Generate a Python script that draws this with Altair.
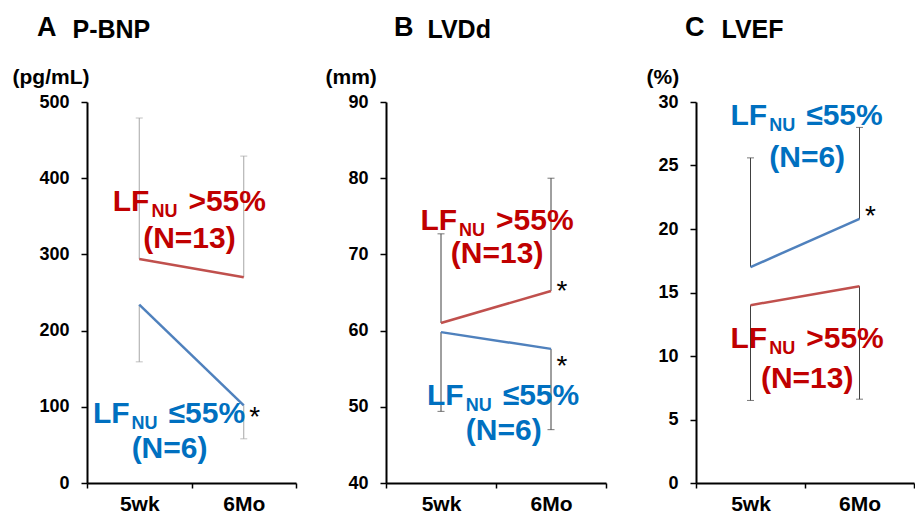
import altair as alt
import pandas as pd

FONT = "Liberation Sans"

times = ["5wk", "6Mo"]
group_keys = ["hi", "lo"]
suffix_text = {"hi": ">55%", "lo": "≤55%"}
n_text = {"hi": "(N=13)", "lo": "(N=6)"}

# ---- Panel A: P-BNP (pg/mL) ----
bnp_hi_mean = [294, 270]
bnp_hi_err = [479, 429]
bnp_lo_mean = [234, 102]
bnp_lo_err = [159, 58]
bnp_ticks = [0, 100, 200, 300, 400, 500]
# label: group, centre x (0..2), line-1 baseline, line-2 baseline (data units)
bnp_labels = [("hi", 0.98, 357, 308), ("lo", 0.79, 79, 33)]
bnp_stars = [96]

# ---- Panel B: LVDd (mm) ----
lvdd_hi_mean = [61.0, 65.2]
lvdd_hi_err = [72.7, 80.0]
lvdd_lo_mean = [59.8, 57.6]
lvdd_lo_err = [49.4, 47.0]
lvdd_ticks = [40, 50, 60, 70, 80, 90]
lvdd_labels = [("hi", 1.01, 73.2, 68.9), ("lo", 1.07, 50.2, 45.6)]
lvdd_stars = [66.1, 56.3]

# ---- Panel C: LVEF (%) ----
lvef_hi_mean = [14.0, 15.5]
lvef_hi_err = [6.5, 6.6]
lvef_lo_mean = [17.0, 20.8]
lvef_lo_err = [25.6, 28.0]
lvef_ticks = [0, 5, 10, 15, 20, 25, 30]
lvef_labels = [("lo", 1.02, 28.2, 24.9), ("hi", 1.02, 10.6, 7.5)]
lvef_stars = [21.6]

LINE_COLORS = ["#C0504D", "#4F81BD"]
TEXT_COLORS = ["#C00000", "#0070C0"]


def make_panel(letter, name, unit, ticks, hi_mean, hi_err, lo_mean, lo_err,
               labels, stars, err_color, width, letter_dx, name_dx, unit_dx):
    rows = []
    for g, m, e in (("hi", hi_mean, hi_err), ("lo", lo_mean, lo_err)):
        for t, mv, ev in zip(times, m, e):
            rows.append({"time": t, "group": g, "mean": mv, "err": ev})
    df = pd.DataFrame(rows)
    lab = pd.DataFrame([
        {"group": g, "cx": cx, "y1": y1, "y2": y2,
         "suffix": suffix_text[g], "n": n_text[g]}
        for g, cx, y1, y2 in labels
    ])
    st = pd.DataFrame({"time": ["6Mo"] * len(stars), "y": stars})

    yscale = alt.Scale(domain=[ticks[0], ticks[-1]], nice=False, zero=False)
    yaxis = alt.Axis(values=ticks, title=unit, grid=False, domainColor="black",
                     domainWidth=2, tickColor="black", tickWidth=1.5, tickSize=6,
                     labelFont=FONT, labelFontSize=18, labelFontWeight="bold",
                     labelColor="black", labelPadding=12,
                     titleAngle=0, titleX=unit_dx, titleY=-19, titleAlign="left",
                     titleBaseline="alphabetic", titleFont=FONT, titleFontSize=21,
                     titleFontWeight="bold", titleColor="black")

    def Y(field):
        return alt.Y(field, type="quantitative", scale=yscale, axis=yaxis)

    X = alt.X("time:N", sort=times, bandPosition=0.5,
              scale=alt.Scale(type="band", paddingInner=0, paddingOuter=0),
              axis=alt.Axis(title=None, labelAngle=0, tickBand="extent",
                            domainColor="black", domainWidth=2, tickColor="black",
                            tickWidth=1.5, tickSize=5, labelPadding=5,
                            labelFont=FONT, labelFontSize=21, labelFontWeight="bold",
                            labelColor="black"))

    base = alt.Chart(df)
    lines = base.mark_line(strokeWidth=2.5).encode(
        x=X, y=Y("mean"),
        color=alt.Color("group:N", scale=alt.Scale(domain=group_keys, range=LINE_COLORS),
                        legend=None))
    rules = base.mark_rule(color=err_color, strokeWidth=1).encode(
        x=X, y=Y("mean"), y2="err")
    caps = base.mark_tick(color=err_color, thickness=1, size=7, orient="horizontal").encode(
        x=X, y=Y("err"))
    star = alt.Chart(st).mark_text(text="*", fontSize=28, font=FONT, color="black",
                                   dx=11, dy=16, baseline="alphabetic").encode(
        x=X, y=Y("y"))
    data_layer = alt.layer(rules, caps, lines, star)

    AX = alt.X("cx:Q", scale=alt.Scale(domain=[0, 2], nice=False, zero=False),
               axis=alt.Axis(orient="top", title=name, labels=False, ticks=False,
                             domain=False, grid=False, titleX=name_dx, titleY=-65,
                             titleAlign="left", titleBaseline="alphabetic",
                             titleFont=FONT, titleFontSize=25, titleFontWeight="bold",
                             titleColor="black"))
    tcol = alt.Color("group:N", scale=alt.Scale(domain=group_keys, range=TEXT_COLORS),
                     legend=None)
    lb = alt.Chart(lab)
    t_lf = lb.mark_text(text="LF", align="right", baseline="alphabetic", font=FONT,
                        fontSize=30, fontWeight="bold", dx=-40).encode(
        x=AX, y=Y("y1"), color=tcol)
    t_nu = lb.mark_text(text="NU", align="left", baseline="alphabetic", font=FONT,
                        fontSize=18, fontWeight="bold", dx=-38, dy=6).encode(
        x=AX, y=Y("y1"), color=tcol)
    t_sf = lb.mark_text(align="left", baseline="alphabetic", font=FONT,
                        fontSize=30, fontWeight="bold", dx=-1).encode(
        x=AX, y=Y("y1"), text="suffix:N", color=tcol)
    t_n = lb.mark_text(align="center", baseline="alphabetic", font=FONT,
                       fontSize=30, fontWeight="bold").encode(
        x=AX, y=Y("y2"), text="n:N", color=tcol)
    annot_layer = alt.layer(t_lf, t_nu, t_sf, t_n)

    return alt.layer(data_layer, annot_layer).resolve_scale(
        x="independent", color="independent").properties(
        width=width, height=381,
        title=alt.TitleParams(letter, anchor="start", frame="group", dx=letter_dx,
                              fontSize=27, font=FONT, fontWeight="bold", color="black",
                              baseline="alphabetic", offset=-46))


pA = make_panel("A", "P-BNP", "(pg/mL)", bnp_ticks, bnp_hi_mean, bnp_hi_err,
                bnp_lo_mean, bnp_lo_err, bnp_labels, bnp_stars, "#A6A6A6",
                209, -50, -15, -75)
pB = make_panel("B", "LVDd", "(mm)", lvdd_ticks, lvdd_hi_mean, lvdd_hi_err,
                lvdd_lo_mean, lvdd_lo_err, lvdd_labels, lvdd_stars, "#404040",
                220, 8, 41, -61)
pC = make_panel("C", "LVEF", "(%)", lvef_ticks, lvef_hi_mean, lvef_hi_err,
                lvef_lo_mean, lvef_lo_err, lvef_labels, lvef_stars, "#404040",
                218, -11, 25, -50)

chart = alt.hconcat(pA, pB, pC, spacing=90, bounds="flush").properties(
    padding={"left": 12, "top": 14, "right": 0, "bottom": 0},
    background="white",
).configure_view(strokeWidth=0)

chart.save("out.html", embed_options={"renderer": "svg", "actions": False})
